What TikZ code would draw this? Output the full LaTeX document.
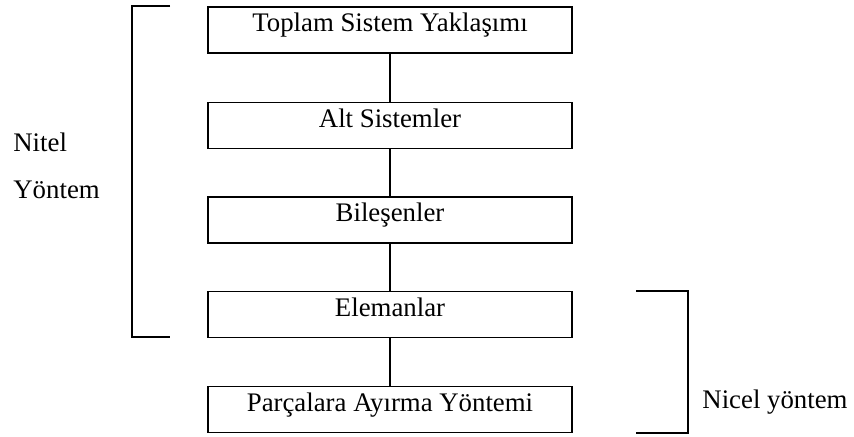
\documentclass[tikz,border=0pt]{standalone}
\usepackage{fontspec}
\setmainfont{Liberation Serif}
\begin{document}
\begin{tikzpicture}[x=0.5pt,y=-0.5pt,
  stepbox/.style={draw,line width=0.9pt,minimum width=182pt,minimum height=23pt,inner sep=0pt,
    text height=9.2pt,text depth=7.6pt,font=\fontsize{13.4}{16}\selectfont},
  lbl/.style={anchor=west,inner sep=0pt,font=\fontsize{13.4}{16}\selectfont},
  link/.style={line width=0.9pt},
  brack/.style={line width=0.9pt}]
\useasboundingbox (0,0) rectangle (854,437);
\node[stepbox] (b1) at (390,30) {Toplam Sistem Yaklaşımı};
\node[stepbox] (b2) at (390,125.5) {Alt Sistemler};
\node[stepbox] (b3) at (390,220) {Bileşenler};
\node[stepbox] (b4) at (390,314.5) {Elemanlar};
\node[stepbox] (b5) at (390,409.5) {Parçalara Ayırma Yöntemi};
\draw[link] (b1) -- (b2);
\draw[link] (b2) -- (b3);
\draw[link] (b3) -- (b4);
\draw[link] (b4) -- (b5);
\coordinate (l1) at (170,6);
\coordinate (l2) at (132,6);
\coordinate (l3) at (132,337);
\coordinate (l4) at (170,337);
\draw[brack] (l1) -- (l2) -- (l3) -- (l4);
\coordinate (r1) at (636,291);
\coordinate (r2) at (688,291);
\coordinate (r3) at (688,433);
\coordinate (r4) at (636,433);
\draw[brack] (r1) -- (r2) -- (r3) -- (r4);
\node[lbl] (nitel) at (13,142) {Nitel};
\node[lbl] (yontem) at (13,190) {Yöntem};
\node[lbl] (nicel) at (702,402) {Nicel yöntem};
\end{tikzpicture}
\end{document}
